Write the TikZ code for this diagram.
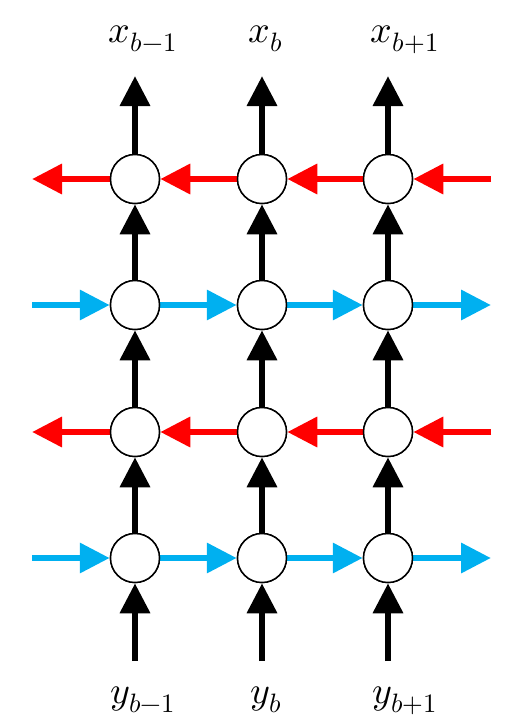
\documentclass[tikz,border=0pt]{standalone}
\usepackage{unicode-math}
\setmathfont{Latin Modern Math}
\usetikzlibrary{arrows.meta}
\definecolor{cblue}{HTML}{00B0F0}
\definecolor{cred}{HTML}{FF0000}
\begin{document}
\begin{tikzpicture}[x=1pt,y=-1pt,
  cell/.style={circle,draw=black,line width=1.5pt,fill=white,minimum size=49pt,inner sep=0pt},
  arr/.style={line width=6.5pt,-{Triangle[length=30pt,width=29pt]}},
  up/.style={arr,draw=black},
  fw/.style={arr,draw=cblue},
  bw/.style={arr,draw=cred},
  lbl/.style={anchor=base,inner sep=0pt,font=\fontsize{38}{40}\selectfont}]
\useasboundingbox (0,0) rectangle (522,724);
% nodes
\foreach \c/\x in {1/135,2/262,3/388}{
  \foreach \r/\y in {1/179,2/305,3/432,4/558}{
    \node[cell] (n\r\c) at (\x,\y) {};
  }
  \coordinate (top\c) at (\x,76);
  \coordinate (bot\c) at (\x,661);
}
\foreach \r/\y in {1/179,2/305,3/432,4/558}{
  \coordinate (L\r) at (32,\y);
  \coordinate (R\r) at (491,\y);
}
% vertical arrows
\foreach \c in {1,2,3}{
  \draw[up] (bot\c) -- (n4\c);
  \draw[up] (n4\c) -- (n3\c);
  \draw[up] (n3\c) -- (n2\c);
  \draw[up] (n2\c) -- (n1\c);
  \draw[up] (n1\c) -- (top\c);
}
% forward (blue)
\foreach \r in {2,4}{
  \draw[fw] (L\r) -- (n\r1);
  \draw[fw] (n\r1) -- (n\r2);
  \draw[fw] (n\r2) -- (n\r3);
  \draw[fw] (n\r3) -- (R\r);
}
% backward (red)
\foreach \r in {1,3}{
  \draw[bw] (R\r) -- (n\r3);
  \draw[bw] (n\r3) -- (n\r2);
  \draw[bw] (n\r2) -- (n\r1);
  \draw[bw] (n\r1) -- (L\r);
}
% redraw cells on top
\foreach \c/\x in {1/135,2/262,3/388}{
  \foreach \r/\y in {1/179,2/305,3/432,4/558}{
    \node[cell] at (\x,\y) {};
  }
}
% labels
\node[lbl] (xa) at (143,42) {$x_{b-1}$};
\node[lbl] (xb) at (266,42) {$x_{b}$};
\node[lbl] (xc) at (405,42) {$x_{b+1}$};
\node[lbl] (ya) at (143,703) {$y_{b-1}$};
\node[lbl] (yb) at (266,703) {$y_{b}$};
\node[lbl] (yc) at (405,703) {$y_{b+1}$};
\end{tikzpicture}
\end{document}
